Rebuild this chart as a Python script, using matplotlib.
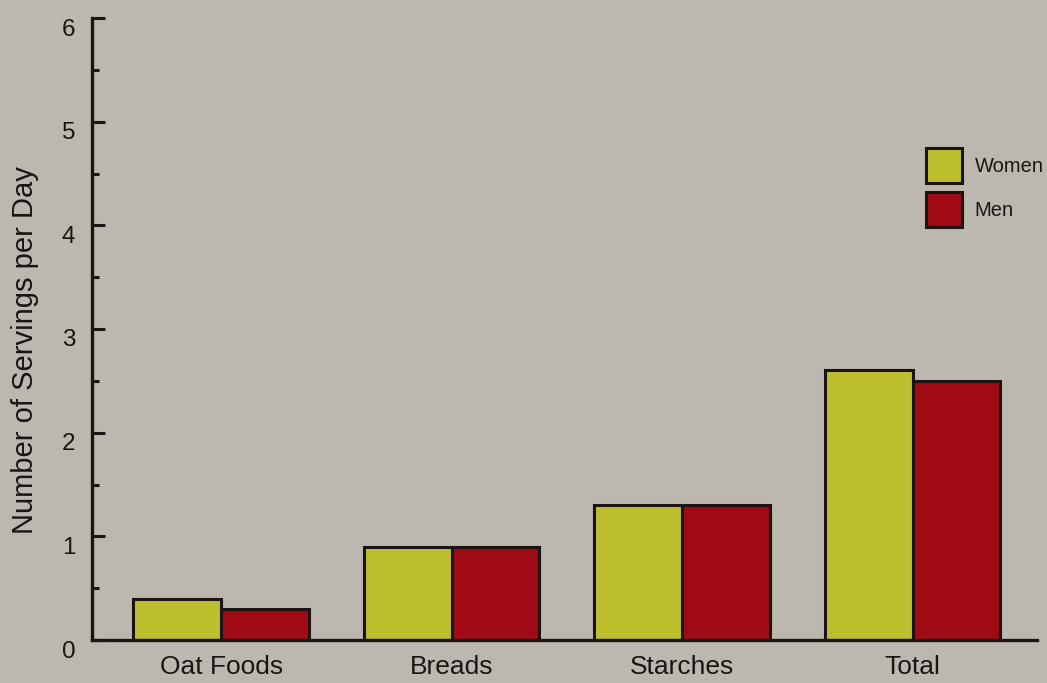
import matplotlib
matplotlib.use("Agg")
import numpy as np
import matplotlib.pyplot as plt
from matplotlib.ticker import MultipleLocator
from matplotlib.transforms import ScaledTranslation

# Portions de produits a base d'avoine / cereales par jour
categories = ["Oat Foods", "Breads", "Starches", "Total"]
women = [0.4, 0.9, 1.3, 2.6]
men = [0.3, 0.9, 1.3, 2.5]

BG = "#bcb8af"
YELLOW = "#bdbf2e"
RED = "#a00a14"
EDGE = "#1c1414"
TXT = "#1a1414"

plt.rcParams["font.family"] = ["Liberation Sans", "DejaVu Sans"]

fig = plt.figure(figsize=(10.47, 6.83), dpi=100, facecolor=BG)
ax = fig.add_axes([92 / 1047, 1 - 640 / 683, (1037 - 92) / 1047, (640 - 18) / 683])
ax.set_facecolor(BG)

x = np.arange(len(categories))
w = 0.38
ax.bar(x - w / 2, women, w, color=YELLOW, edgecolor=EDGE, linewidth=2.2, label="Women", zorder=3)
ax.bar(x + w / 2, men, w, color=RED, edgecolor=EDGE, linewidth=2.2, label="Men", zorder=3)

ax.set_xlim(-0.56, 3.54)
ax.set_ylim(0, 6)
ax.set_xticks(x)
ax.set_xticklabels(categories, fontsize=19)
ax.yaxis.set_major_locator(MultipleLocator(1))
ax.yaxis.set_minor_locator(MultipleLocator(0.5))

for side in ("top", "right"):
    ax.spines[side].set_visible(False)
for side in ("left", "bottom"):
    ax.spines[side].set_linewidth(2.4)
    ax.spines[side].set_color(EDGE)
    ax.spines[side].set_zorder(4)

ax.tick_params(axis="x", length=0, pad=10.5, labelcolor=TXT)
ax.tick_params(axis="y", which="major", direction="in", length=9.5, width=2.2,
               color=EDGE, labelsize=17.5, pad=12, labelcolor=TXT)
ax.tick_params(axis="y", which="minor", direction="in", length=5, width=2.2, color=EDGE)

# les chiffres de l'axe y sont legerement decales vers le bas
shift = ScaledTranslation(0, -9 / 100, fig.dpi_scale_trans)
for lab in ax.get_yticklabels():
    lab.set_transform(lab.get_transform() + shift)

ax.set_ylabel("Number of Servings per Day", fontsize=21, color=TXT)
ax.yaxis.set_label_coords(-0.056, 0.466)

ax.legend(loc="upper left", bbox_to_anchor=(926 / 1047, 1 - 148 / 683),
          bbox_transform=fig.transFigure, frameon=False, fontsize=14.5,
          handlelength=1.79, handleheight=2.3, labelspacing=0.45,
          handletextpad=0.62, borderpad=0, borderaxespad=0, labelcolor=TXT)

fig.savefig("out.png", dpi=100, facecolor=BG)
